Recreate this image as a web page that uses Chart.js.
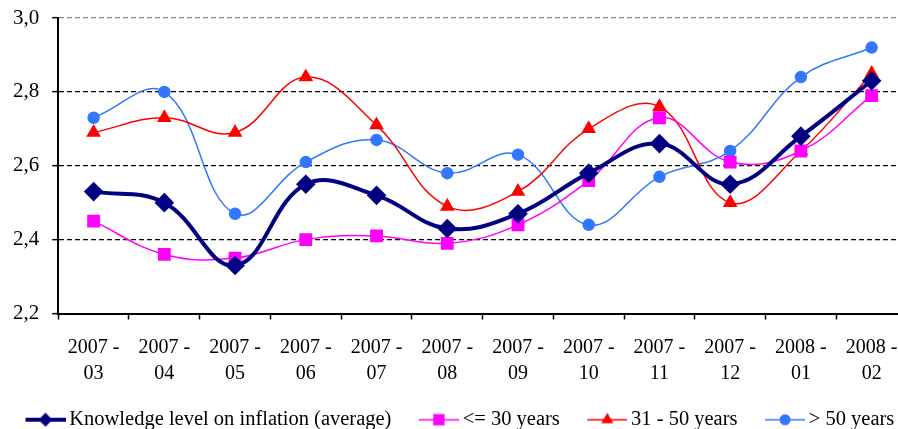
<!DOCTYPE html>
<html>
<head>
<meta charset="utf-8">
<script src="https://cdn.jsdelivr.net/npm/chart.js@4.4.1/dist/chart.umd.min.js"></script>
<style>
  html, body { margin: 0; padding: 0; overflow: hidden; background: #fff; }
  #wrap { width: 926px; height: 440px; margin-left: -8px; }
</style>
</head>
<body>
<div id="wrap"><canvas id="myChart" width="926" height="440"></canvas></div>
<script>
// categories (year - month)
var months = ['2007-03', '2007-04', '2007-05', '2007-06', '2007-07', '2007-08',
              '2007-09', '2007-10', '2007-11', '2007-12', '2008-01', '2008-02'];

// series values
var average  = [2.53, 2.50, 2.33, 2.55, 2.52, 2.43, 2.47, 2.58, 2.66, 2.55, 2.68, 2.83];
var upTo30   = [2.45, 2.36, 2.35, 2.40, 2.41, 2.39, 2.44, 2.56, 2.73, 2.61, 2.64, 2.79];
var from31to50 = [2.69, 2.73, 2.69, 2.84, 2.71, 2.49, 2.53, 2.70, 2.76, 2.50, 2.64, 2.85];
var over50   = [2.73, 2.80, 2.47, 2.61, 2.67, 2.58, 2.63, 2.44, 2.57, 2.64, 2.84, 2.92];

var yTicks = [2.2, 2.4, 2.6, 2.8, 3.0];

var labels = months.map(function (m) {
  var p = m.split('-');
  return [p[0] + ' -', p[1]];
});

var FONT = 'Liberation Serif, Times New Roman, serif';

// little line + marker picture for the legend (drawn at the right end of the canvas)
function makeIcon(ds) {
  var c = document.createElement('canvas');
  c.width = 66; c.height = 18;
  var g = c.getContext('2d');
  var x0 = 26, cx = 46, cy = 9;
  g.strokeStyle = ds.borderColor;
  g.lineWidth = ds.borderWidth;
  g.beginPath(); g.moveTo(x0, cy); g.lineTo(66, cy); g.stroke();
  g.fillStyle = ds.pointBackgroundColor;
  g.beginPath();
  var r = ds.pointRadius;
  if (ds.pointStyle === 'rectRot') {
    g.moveTo(cx, cy - r); g.lineTo(cx + r, cy); g.lineTo(cx, cy + r); g.lineTo(cx - r, cy);
  } else if (ds.pointStyle === 'rect') {
    var s = r * Math.SQRT1_2;
    g.rect(cx - s, cy - s, 2 * s, 2 * s);
  } else if (ds.pointStyle === 'triangle') {
    g.moveTo(cx, cy - r); g.lineTo(cx + r * 0.866, cy + r / 2); g.lineTo(cx - r * 0.866, cy + r / 2);
  } else {
    g.arc(cx, cy, r, 0, Math.PI * 2);
  }
  g.closePath(); g.fill();
  return c;
}

var ctx = document.getElementById('myChart').getContext('2d');
var myChart = new Chart(ctx, {
  type: 'line',
  data: {
    labels: labels,
    datasets: [{
      label: 'Knowledge level on inflation (average)',
      data: average,
      borderColor: '#000080',
      backgroundColor: '#000080',
      pointBackgroundColor: '#000080',
      borderWidth: 4,
      pointStyle: 'rectRot',
      pointRadius: 7,
      tension: 0.4
    }, {
      label: '<= 30 years',
      data: upTo30,
      borderColor: '#ff00ff',
      backgroundColor: '#ff00ff',
      pointBackgroundColor: '#ff00ff',
      borderWidth: 1.5,
      pointStyle: 'rect',
      pointRadius: 8,
      tension: 0.4
    }, {
      label: '31 - 50 years',
      data: from31to50,
      borderColor: '#ff0000',
      backgroundColor: '#ff0000',
      pointBackgroundColor: '#ff0000',
      borderWidth: 1.5,
      pointStyle: 'triangle',
      pointRadius: 7,
      tension: 0.4
    }, {
      label: '> 50 years',
      data: over50,
      borderColor: '#3377ff',
      backgroundColor: '#3377ff',
      pointBackgroundColor: '#3377ff',
      borderWidth: 1.5,
      pointStyle: 'circle',
      pointRadius: 5.5,
      tension: 0.4
    }]
  },
  options: {
    responsive: false,
    animation: false,
    layout: { padding: { left: 6, right: 4, top: 18, bottom: 0 } },
    elements: { point: { borderWidth: 0, hoverRadius: 7 } },
    plugins: {
      tooltip: { enabled: false },
      legend: {
        position: 'bottom',
        align: 'start',
        labels: {
          color: '#000',
          font: { family: FONT, size: 20.5 },
          usePointStyle: true,
          pointStyleWidth: 53,
          padding: 8,
          generateLabels: function (chart) {
            return chart.data.datasets.map(function (ds, i) {
              return {
                text: ds.label,
                pointStyle: makeIcon(ds),
                fillStyle: ds.borderColor,
                strokeStyle: ds.borderColor,
                lineWidth: 0,
                hidden: false,
                datasetIndex: i,
                fontColor: '#000'
              };
            });
          }
        }
      }
    },
    scales: {
      x: {
        offset: true,
        grid: {
          offset: true,
          drawOnChartArea: false,
          drawTicks: true,
          tickLength: 6,
          tickColor: '#000',
          tickWidth: 1.5
        },
        border: { display: true, color: '#000', width: 2 },
        ticks: {
          color: '#000',
          padding: 15,
          maxRotation: 0,
          autoSkip: false,
          font: { family: FONT, size: 20, lineHeight: 1.3 }
        }
      },
      y: {
        min: 2.2,
        max: 3.0,
        afterBuildTicks: function (axis) {
          axis.ticks = yTicks.map(function (v) { return { value: v }; });
        },
        afterFit: function (axis) {
          axis.paddingTop = 0;
          axis.width += 2;
        },
        grid: {
          color: function (c) {
            var v = c.tick ? c.tick.value : 0;
            if (Math.abs(v - 3.0) < 1e-6) return '#888888';
            if (Math.abs(v - 2.2) < 1e-6) return 'rgba(0,0,0,0)';
            return '#000';
          },
          lineWidth: 1.3,
          tickColor: '#000',
          tickLength: 6,
          tickWidth: 1.5
        },
        border: { display: true, color: '#000', width: 2, dash: [5, 3] },
        ticks: {
          color: '#000',
          padding: 13,
          font: { family: FONT, size: 21 },
          callback: function (v) { return Number(v).toFixed(1).replace('.', ','); }
        }
      }
    }
  }
});
</script>
</body>
</html>
